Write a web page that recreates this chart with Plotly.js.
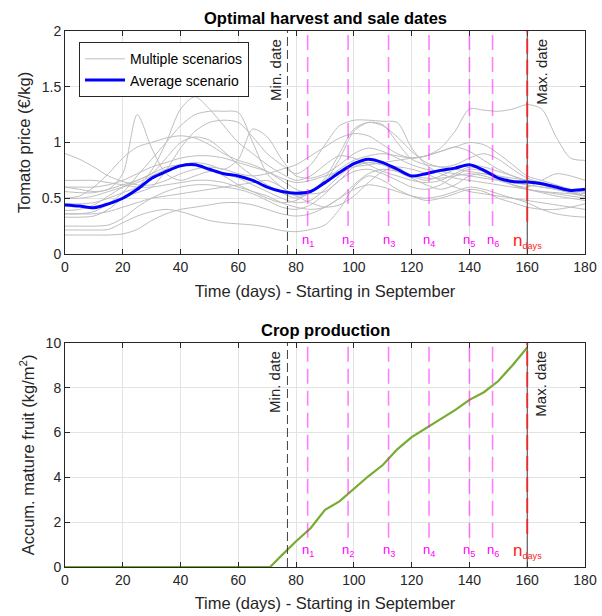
<!DOCTYPE html>
<html>
<head>
<meta charset="utf-8">
<script src="https://cdn.plot.ly/plotly-3.0.1.min.js"></script>
<style>html,body{margin:0;padding:0;background:#fff;}#chart{width:602px;height:616px;}</style>
</head>
<body>
<div id="chart"></div>
<script>
// ---------- DATA ----------
const days = [0,5,10,15,20,25,30,35,40,45,50,55,60,65,70,75,80,85,90,95,100,105,110,115,120,125,130,135,140,145,150,155,160,165,170,175,180];

const scen1  = [0.90,0.85,0.78,0.70,0.65,0.62,0.62,0.66,0.72,0.76,0.78,0.76,0.72,0.70,0.72,0.76,0.80,0.88,0.96,1.04,1.08,1.06,0.98,0.90,0.86,0.88,0.92,0.96,1.00,0.98,0.90,0.80,0.70,0.66,0.62,0.58,0.55];
const scen2  = [0.45,0.45,0.46,0.50,0.55,0.60,0.75,1.00,1.30,1.41,1.30,1.15,1.00,0.90,0.80,0.72,0.66,0.70,0.80,0.88,0.86,0.80,0.74,0.70,0.66,0.64,0.66,0.72,0.78,0.76,0.70,0.66,0.62,0.60,0.58,0.55,0.52];
const scen3  = [0.60,0.58,0.56,0.58,0.72,1.25,0.95,0.72,0.66,0.70,0.74,0.72,0.68,0.62,0.56,0.50,0.46,0.48,0.58,0.70,0.80,0.82,0.80,0.74,0.68,0.62,0.58,0.62,0.70,0.72,0.68,0.62,0.58,0.56,0.54,0.52,0.50];
const scen4  = [0.36,0.36,0.38,0.45,0.55,0.70,0.85,1.00,1.15,1.25,1.28,1.28,1.27,1.00,0.72,0.60,0.52,0.55,0.65,0.85,1.10,1.18,1.16,1.00,0.85,0.80,0.78,0.76,0.74,0.72,0.70,0.68,0.66,0.62,0.58,0.55,0.52];
const scen5  = [0.56,0.55,0.55,0.58,0.62,0.66,0.72,0.78,0.80,0.82,0.80,0.76,0.85,1.12,1.05,0.85,0.70,0.68,0.72,0.80,0.90,0.95,0.92,0.86,0.80,0.76,0.74,0.72,0.70,0.68,0.66,0.64,0.62,0.60,0.58,0.55,0.52];
const scen6  = [0.50,0.50,0.52,0.56,0.60,0.64,0.70,0.76,0.80,0.80,0.76,0.70,0.62,0.56,0.50,0.46,0.48,0.56,0.66,0.76,0.84,0.88,0.90,0.88,0.86,0.88,0.95,1.10,1.30,1.29,1.28,1.30,1.34,1.30,1.05,0.86,0.84];
const scen7  = [0.17,0.17,0.17,0.17,0.18,0.22,0.30,0.36,0.40,0.42,0.44,0.46,0.46,0.44,0.40,0.36,0.34,0.36,0.42,0.50,0.58,0.62,0.60,0.56,0.52,0.50,0.52,0.56,0.60,0.58,0.54,0.50,0.48,0.46,0.44,0.42,0.40];
const scen8  = [0.215,0.215,0.215,0.22,0.28,0.34,0.38,0.40,0.38,0.34,0.30,0.28,0.27,0.26,0.24,0.21,0.20,0.22,0.26,0.40,0.60,0.70,0.66,0.58,0.52,0.48,0.50,0.54,0.58,0.56,0.50,0.46,0.42,0.40,0.40,0.42,0.45];
const scen9  = [0.25,0.25,0.25,0.26,0.32,0.42,0.50,0.56,0.60,0.62,0.62,0.60,0.58,0.54,0.48,0.42,0.40,0.44,0.54,0.66,0.74,0.76,0.72,0.66,0.60,0.58,0.62,0.70,0.76,0.74,0.68,0.62,0.58,0.55,0.52,0.50,0.48];
const scen10 = [0.33,0.33,0.34,0.40,0.50,0.55,0.60,0.75,0.95,1.10,1.18,1.20,1.18,1.05,0.90,0.80,0.72,0.80,0.98,1.15,1.20,1.20,1.19,1.18,0.95,0.80,0.72,0.68,0.66,0.64,0.62,0.60,0.58,0.56,0.55,0.54,0.52];
const scen11 = [0.36,0.36,0.36,0.38,0.42,0.46,0.50,0.52,0.54,0.56,0.58,0.60,0.62,0.64,0.66,0.60,0.52,0.46,0.42,0.44,0.52,0.64,0.74,0.78,0.76,0.72,0.66,0.60,0.56,0.54,0.52,0.50,0.46,0.40,0.36,0.34,0.33];
const scen12 = [0.39,0.40,0.44,0.52,0.60,0.66,0.72,0.86,1.00,1.05,1.02,0.92,0.80,0.70,0.62,0.55,0.50,0.55,0.68,0.90,1.12,1.18,1.15,1.05,0.92,0.82,0.78,0.80,0.86,0.90,0.85,0.76,0.68,0.64,0.60,0.56,0.54];
const scen13 = [0.50,0.52,0.60,0.72,0.86,0.96,1.00,1.04,1.06,1.04,0.98,0.90,0.84,0.80,0.74,0.66,0.58,0.54,0.56,0.66,0.78,0.82,0.80,0.78,0.70,0.66,0.70,0.76,0.80,0.78,0.74,0.70,0.66,0.64,0.60,0.56,0.52];
const scen14 = [0.60,0.60,0.60,0.62,0.66,0.72,0.78,0.82,0.86,0.88,0.88,0.86,0.82,0.78,0.74,0.68,0.64,0.66,0.70,0.74,0.78,0.80,0.82,0.84,0.86,0.88,0.92,0.96,0.92,0.84,0.76,0.70,0.65,0.62,0.60,0.58,0.56];
const scen15 = [0.66,0.66,0.66,0.64,0.62,0.60,0.60,0.62,0.64,0.66,0.66,0.64,0.60,0.56,0.52,0.46,0.42,0.40,0.42,0.50,0.62,0.72,0.76,0.74,0.70,0.68,0.68,0.70,0.72,0.70,0.66,0.62,0.60,0.66,0.72,0.70,0.66];
const scenarios = [scen1,scen2,scen3,scen4,scen5,scen6,scen7,scen8,scen9,scen10,scen11,scen12,scen13,scen14,scen15];

const avgPrice = [0.44,0.43,0.415,0.45,0.50,0.58,0.68,0.74,0.79,0.80,0.76,0.72,0.70,0.66,0.60,0.56,0.545,0.56,0.64,0.73,0.81,0.85,0.82,0.76,0.70,0.72,0.75,0.77,0.80,0.75,0.68,0.65,0.645,0.63,0.60,0.57,0.58];

const prodDays  = [0,71,75,80,85,90,95,100,105,110,115,120,125,130,135,140,145,150,155,160];
const prodAccum = [0,0,0.52,1.15,1.73,2.55,2.93,3.49,4.05,4.55,5.25,5.80,6.20,6.60,7.00,7.46,7.80,8.30,9.02,9.80];

const minDate = 77;
const harvestDates = [84,98,112,126,140,148];
const harvestLabels = ['n<sub>1</sub>','n<sub>2</sub>','n<sub>3</sub>','n<sub>4</sub>','n<sub>5</sub>','n<sub>6</sub>'];
const maxDate = 160;
const xTicks = [0,20,40,60,80,100,120,140,160,180];

// ---------- TRACES ----------
const FONT = 'Liberation Sans, Arial, Helvetica, sans-serif';
const traces = [];
scenarios.forEach((s,i)=>{
  traces.push({x:days,y:s,type:'scatter',mode:'lines',line:{color:'rgb(190,190,190)',width:1,shape:'spline',smoothing:0.8},
    name:'Multiple scenarios',legendgroup:'scen',showlegend:i===0,xaxis:'x',yaxis:'y',hoverinfo:'skip'});
});
traces.push({x:days,y:avgPrice,type:'scatter',mode:'lines',line:{color:'#0000ff',width:3,shape:'spline',smoothing:0.8},
  name:'Average scenario',xaxis:'x',yaxis:'y'});
traces.push({x:prodDays,y:prodAccum,type:'scatter',mode:'lines',line:{color:'#77ac30',width:2.2},
  name:'Production',showlegend:false,xaxis:'x2',yaxis:'y2'});

// ---------- SHAPES & ANNOTATIONS ----------
const shapes = [];
const annotations = [];
const panels = [
  {xr:'x',yr:'y',ymax:2,magEnd:0.25,redEnd:0.29,labY:0.12},
  {xr:'x2',yr:'y2',ymax:10,magEnd:1.3,redEnd:1.47,labY:0.72}
];
panels.forEach(p=>{
  shapes.push({type:'line',xref:p.xr,yref:p.yr,x0:maxDate,x1:maxDate,y0:0,y1:p.ymax,line:{color:'#404040',width:1}});
  shapes.push({type:'line',xref:p.xr,yref:p.yr,x0:minDate,x1:minDate,y0:0,y1:p.ymax,line:{color:'#404040',width:1,dash:'9px,4px'}});
  harvestDates.forEach((d,i)=>{
    shapes.push({type:'line',xref:p.xr,yref:p.yr,x0:d,x1:d,y0:p.magEnd,y1:p.ymax,line:{color:'rgba(255,0,255,0.5)',width:1.6,dash:'15px,7px'}});
    annotations.push({xref:p.xr,yref:p.yr,x:d,y:p.labY,text:harvestLabels[i],showarrow:false,font:{family:FONT,size:13,color:'#ff00ff'},xanchor:'center',yanchor:'middle'});
  });
  shapes.push({type:'line',xref:p.xr,yref:p.yr,x0:maxDate,x1:maxDate,y0:p.redEnd,y1:p.ymax,line:{color:'rgba(255,30,30,0.8)',width:2,dash:'15px,6px'}});
  annotations.push({xref:p.xr,yref:p.yr,x:maxDate,y:p.labY,text:'<span style="font-size:17px">n</span><sub>days</sub>',showarrow:false,font:{family:FONT,size:13,color:'#ff2020'},xanchor:'center',yanchor:'middle'});
  annotations.push({xref:p.xr,yref:p.yr,x:minDate,y:p.ymax,text:'Min. date',textangle:-90,showarrow:false,font:{family:FONT,size:15,color:'#262626'},xanchor:'right',yanchor:'top',xshift:-2,yshift:-6});
  annotations.push({xref:p.xr,yref:p.yr,x:maxDate,y:p.ymax,text:'Max. date',textangle:-90,showarrow:false,font:{family:FONT,size:15,color:'#262626'},xanchor:'left',yanchor:'top',xshift:3,yshift:-6});
});
annotations.push({xref:'paper',yref:'paper',x:0.5,y:1,yshift:13,text:'<b>Optimal harvest and sale dates</b>',showarrow:false,font:{family:FONT,size:16.5,color:'#000'},xanchor:'center',yanchor:'middle'});
annotations.push({xref:'paper',yref:'paper',x:0.5,y:0.418,yshift:13,text:'<b>Crop production</b>',showarrow:false,font:{family:FONT,size:16.5,color:'#000'},xanchor:'center',yanchor:'middle'});

const axisCommon = {
  ticks:'inside',ticklen:5,tickcolor:'#262626',showline:true,mirror:'ticks',linecolor:'#262626',linewidth:1,
  showgrid:true,gridcolor:'#e3e3e3',zeroline:false,tickfont:{family:FONT,size:14,color:'#262626'},automargin:false
};
const titleFont = {family:FONT,size:16.5,color:'#262626'};

const layout = {
  width:602,height:616,
  margin:{l:65,r:17,t:31,b:49},
  paper_bgcolor:'#fff',plot_bgcolor:'#fff',
  font:{family:FONT,color:'#262626'},
  showlegend:true,
  legend:{x:0.027,y:0.979,xanchor:'left',yanchor:'top',bgcolor:'#fff',bordercolor:'#262626',borderwidth:1,
    font:{family:FONT,size:14,color:'#000'},tracegroupgap:0,itemwidth:40},
  xaxis:Object.assign({},axisCommon,{domain:[0,1],anchor:'y',range:[0,180],tickvals:xTicks,
    title:{text:'Time (days) - Starting in September',font:titleFont,standoff:11}}),
  yaxis:Object.assign({},axisCommon,{domain:[0.584,1],anchor:'x',range:[0,2],dtick:0.5,
    title:{text:'Tomato price (€/kg)',font:titleFont,standoff:6}}),
  xaxis2:Object.assign({},axisCommon,{domain:[0,1],anchor:'y2',range:[0,180],tickvals:xTicks,
    title:{text:'Time (days) - Starting in September',font:titleFont,standoff:10}}),
  yaxis2:Object.assign({},axisCommon,{domain:[0,0.418],anchor:'x2',range:[0,10],dtick:2,
    title:{text:'Accum. mature fruit (kg/m<sup>2</sup>)',font:titleFont,standoff:6}}),
  shapes:shapes,
  annotations:annotations
};

Plotly.newPlot('chart',traces,layout,{displayModeBar:false,staticPlot:true});
</script>
</body>
</html>
